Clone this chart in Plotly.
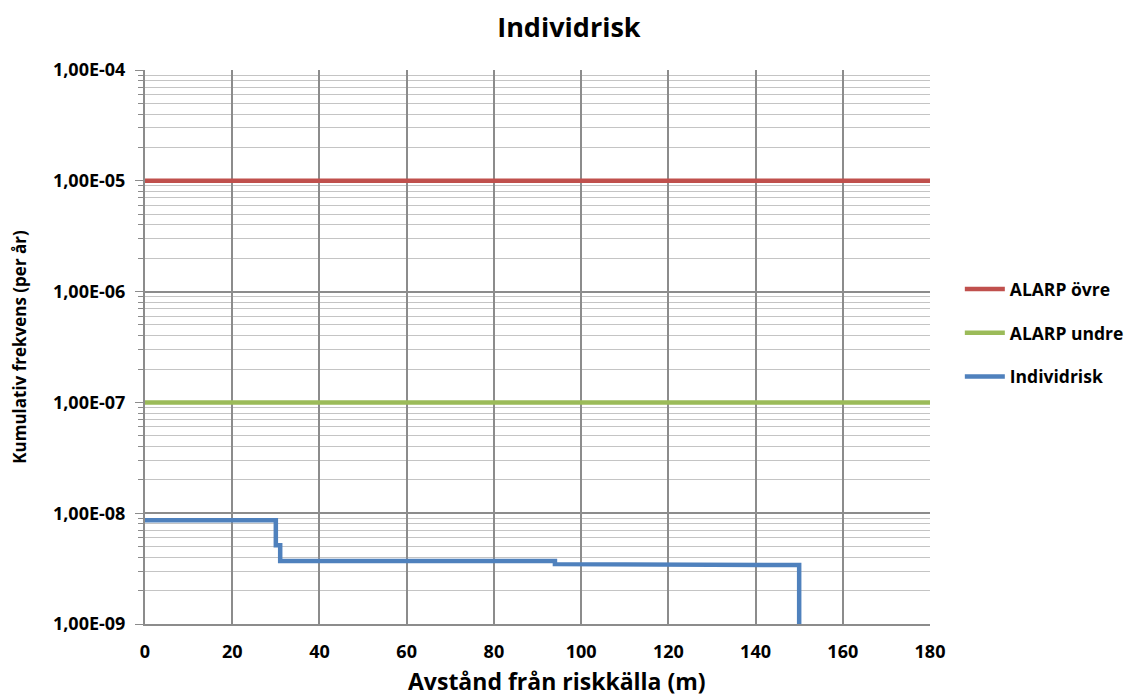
import plotly.graph_objects as go

# Data
alarp_x = [0, 180]
alarp_upper = [1e-5, 1e-5]
alarp_lower = [1e-7, 1e-7]
risk_x = [0, 30, 30, 31, 31, 94, 94, 107, 107, 150, 150]
risk_y = [8.65e-9, 8.65e-9, 5.15e-9, 5.15e-9, 3.7e-9, 3.7e-9, 3.47e-9, 3.47e-9, 3.4e-9, 3.4e-9, 1e-12]
y_tickvals = [1e-9, 1e-8, 1e-7, 1e-6, 1e-5, 1e-4]
y_ticktext = ["1,00E-09", "1,00E-08", "1,00E-07", "1,00E-06", "1,00E-05", "1,00E-04"]
x_tickvals = [0, 20, 40, 60, 80, 100, 120, 140, 160, 180]
series_names = ["ALARP övre", "ALARP undre", "Individrisk"]

FONT = "'Open Sans', Lato, sans-serif"

fig = go.Figure()
fig.add_trace(go.Scatter(x=alarp_x, y=alarp_upper, mode="lines", name=f"<b>{series_names[0]}</b>",
                         legendgroup="a", line=dict(color="#C0504D", width=4.5)))
fig.add_trace(go.Scatter(x=alarp_x, y=alarp_lower, mode="lines", name=f"<b>{series_names[1]}</b>",
                         legendgroup="b", line=dict(color="#9BBB59", width=4.5)))
fig.add_trace(go.Scatter(x=risk_x, y=risk_y, mode="lines", name=f"<b>{series_names[2]}</b>",
                         legendgroup="c", line=dict(color="#4F81BD", width=4.5)))

fig.update_layout(
    width=1140, height=699,
    paper_bgcolor="white", plot_bgcolor="white",
    margin=dict(l=137, r=218, t=62, b=83, autoexpand=False),
    title=dict(text="<b>Individrisk</b>", x=0.492, xanchor="center", y=0.972, yanchor="middle",
               font=dict(family=FONT, size=27, color="black")),
    font=dict(family=FONT, color="black"),
    legend=dict(x=1.038, y=0.525, xanchor="left", yanchor="middle",
                font=dict(family=FONT, size=17.5, color="black"),
                tracegroupgap=18, itemwidth=40, traceorder="grouped"),
    showlegend=True,
    annotations=[dict(text="<b>Avstånd från riskkälla (m)</b>", xref="paper", yref="paper",
                      x=0.525, y=0, yshift=-57, xanchor="center", yanchor="middle",
                      showarrow=False, font=dict(family=FONT, size=23, color="black"))],
)

fig.update_xaxes(
    range=[0, 180], tickvals=x_tickvals,
    ticktext=[f"<b>{v}</b>" for v in x_tickvals],
    tickfont=dict(family=FONT, size=18, color="black"),
    ticklabelstandoff=10,
    showgrid=True, gridcolor="#8c8c8c", gridwidth=1.5,
    showline=True, linecolor="#8c8c8c", linewidth=2,
    ticks="", zeroline=False, mirror=False,
)

fig.update_yaxes(
    type="log", range=[-9, -4],
    tickvals=y_tickvals, ticktext=[f"<b>{t}</b>" for t in y_ticktext],
    tickfont=dict(family=FONT, size=18, color="black"),
    ticklabelstandoff=6,
    showgrid=True, gridcolor="#8c8c8c", gridwidth=1.5,
    minor=dict(showgrid=True, gridcolor="#c4c4c4", gridwidth=1, ticks="outside",
               ticklen=5, tickcolor="#8c8c8c", dtick="D1"),
    showline=True, linecolor="#8c8c8c", linewidth=2,
    ticks="outside", ticklen=8, tickcolor="#8c8c8c", zeroline=False,
    title=dict(text="<b>Kumulativ frekvens (per år)</b>", font=dict(family=FONT, size=17, color="black"),
               standoff=22),
)

fig.write_html("out.html")
